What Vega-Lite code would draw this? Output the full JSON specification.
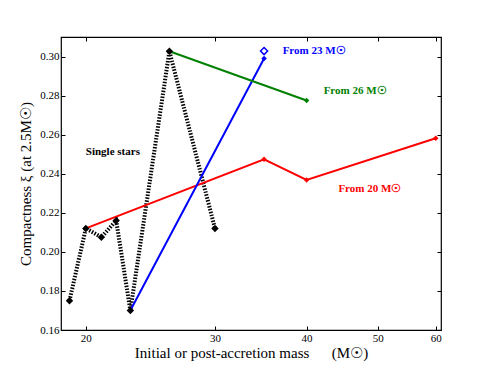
{
  "$schema": "https://vega.github.io/schema/vega-lite/v6.json",
  "width": 380,
  "height": 293,
  "autosize": {"type": "none"},
  "padding": {"left": 61, "top": 37, "right": 50, "bottom": 38},
  "background": "white",
  "config": {
    "view": {"stroke": "black", "strokeWidth": 1.2},
    "font": "Liberation Serif",
    "axis": {
      "domain": false,
      "grid": false,
      "tickColor": "black",
      "tickSize": -4,
      "labelFont": "Liberation Serif",
      "labelFontSize": 11,
      "labelColor": "black",
      "titleFont": "Liberation Serif",
      "titleFontWeight": "normal",
      "titleFontSize": 15,
      "titleColor": "black"
    }
  },
  "datasets": {
    "pts": [
      {"series": "single", "mass": 19, "xi": 0.175},
      {"series": "single", "mass": 20, "xi": 0.212},
      {"series": "single", "mass": 21, "xi": 0.2075},
      {"series": "single", "mass": 22, "xi": 0.216},
      {"series": "single", "mass": 23, "xi": 0.170},
      {"series": "single", "mass": 26, "xi": 0.3027},
      {"series": "single", "mass": 30, "xi": 0.212},
      {"series": "From 20", "mass": 20, "xi": 0.212},
      {"series": "From 20", "mass": 35, "xi": 0.2474},
      {"series": "From 20", "mass": 40, "xi": 0.2368},
      {"series": "From 20", "mass": 60, "xi": 0.2582},
      {"series": "From 23", "mass": 23, "xi": 0.170},
      {"series": "From 23", "mass": 35, "xi": 0.299},
      {"series": "From 26", "mass": 26, "xi": 0.3027},
      {"series": "From 26", "mass": 40, "xi": 0.2775}
    ],
    "open": [
      {"series": "From 23", "mass": 35, "xi": 0.3028}
    ],
    "labels": [
      {"series": "From 23", "mass": 37.1, "xi": 0.3027, "label": "From 23 M☉"},
      {"series": "From 26", "mass": 42.2, "xi": 0.2821, "label": "From 26 M☉"},
      {"series": "From 20", "mass": 44.2, "xi": 0.232, "label": "From 20 M☉"},
      {"series": "single", "mass": 20, "xi": 0.251, "label": "Single stars"}
    ]
  },
  "resolve": {"axis": {"x": "independent", "y": "independent"}},
  "layer": [
    {
      "data": {"name": "pts"},
      "transform": [{"filter": "datum.series == 'single'"}],
      "mark": {"type": "line", "color": "black", "strokeWidth": 4, "strokeDash": [1.5, 1.5]},
      "encoding": {
        "x": {
          "field": "mass", "type": "quantitative",
          "scale": {"type": "log", "domain": [18.5, 61], "nice": false},
          "axis": {"values": [20, 30, 40, 50, 60], "format": "d", "title": "Initial or post-accretion mass\u00a0\u00a0\u00a0\u00a0\u00a0\u00a0(M☉)", "labelPadding": 6, "titlePadding": 2}
        },
        "y": {
          "field": "xi", "type": "quantitative",
          "scale": {"domain": [0.16, 0.31], "nice": false, "zero": false},
          "axis": {"values": [0.16, 0.18, 0.2, 0.22, 0.24, 0.26, 0.28, 0.3], "format": ".2f", "title": "Compactness ξ (at 2.5M☉)", "labelPadding": 6, "titlePadding": 6}
        }
      }
    },
    {
      "data": {"name": "pts"},
      "transform": [{"filter": "datum.series != 'single'"}],
      "mark": {"type": "line", "strokeWidth": 2},
      "encoding": {
        "x": {"field": "mass", "type": "quantitative", "axis": {"orient": "top", "values": [20, 30, 40, 50, 60], "labels": false, "title": null}},
        "y": {"field": "xi", "type": "quantitative", "axis": {"orient": "right", "values": [0.16, 0.18, 0.2, 0.22, 0.24, 0.26, 0.28, 0.3], "labels": false, "title": null}},
        "color": {"field": "series", "type": "nominal", "scale": {"domain": ["From 20", "From 23", "From 26", "single"], "range": ["#ff0000", "#0000ff", "#008000", "#000000"]}, "legend": null}
      }
    },
    {
      "data": {"name": "pts"},
      "transform": [{"filter": "datum.series != 'single'"}],
      "mark": {"type": "point", "shape": "diamond", "filled": true, "opacity": 1, "size": 30},
      "encoding": {
        "x": {"field": "mass", "type": "quantitative", "axis": null},
        "y": {"field": "xi", "type": "quantitative", "axis": null},
        "color": {"field": "series", "type": "nominal", "legend": null}
      }
    },
    {
      "data": {"name": "pts"},
      "transform": [{"filter": "datum.series == 'single'"}],
      "mark": {"type": "point", "shape": "diamond", "filled": true, "opacity": 1, "size": 55, "color": "black"},
      "encoding": {
        "x": {"field": "mass", "type": "quantitative", "axis": null},
        "y": {"field": "xi", "type": "quantitative", "axis": null}
      }
    },
    {
      "data": {"name": "open"},
      "mark": {"type": "point", "shape": "diamond", "filled": false, "opacity": 1, "size": 50, "strokeWidth": 1.5, "color": "#0000ff"},
      "encoding": {
        "x": {"field": "mass", "type": "quantitative", "axis": null},
        "y": {"field": "xi", "type": "quantitative", "axis": null}
      }
    },
    {
      "data": {"name": "labels"},
      "mark": {"type": "text", "align": "left", "baseline": "middle", "font": "Liberation Serif", "fontWeight": "bold", "fontSize": 11},
      "encoding": {
        "x": {"field": "mass", "type": "quantitative", "axis": null},
        "y": {"field": "xi", "type": "quantitative", "axis": null},
        "text": {"field": "label"},
        "color": {"field": "series", "type": "nominal", "legend": null}
      }
    }
  ]
}
